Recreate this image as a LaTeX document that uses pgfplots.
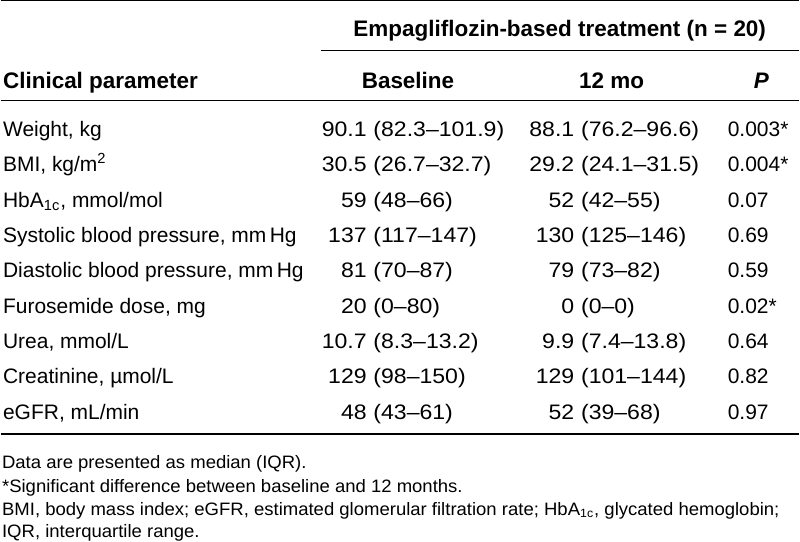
\documentclass[border=0pt]{standalone}
\usepackage{pgfplots}
\pgfplotsset{compat=1.18}
\usepackage{fontspec}
\setmainfont{Liberation Sans}[Ligatures=TeX]
\newfontfamily\footfont{Liberation Sans}[Ligatures=TeX,FakeStretch=1.03]
\newfontfamily\numfont{Liberation Sans}[Ligatures=TeX,FakeStretch=1.1]
\newcommand{\bodyfont}{\fontsize{10.5}{12}\selectfont}
\newcommand{\nfont}{\numfont\fontsize{10.5}{12}\selectfont}
\newcommand{\headfont}{\fontsize{11.25}{13}\selectfont\bfseries}
% #1 row y (baseline), #2 name, #3 baseline median, #4 baseline IQR, #5 12-mo median, #6 12-mo IQR, #7 P
\newcommand{\tabrow}[7]{%
  \node[anchor=base west, inner sep=0pt, font=\bodyfont] at (axis cs:2,#1) {#2};
  \node[anchor=base east, inner sep=0pt, font=\nfont] at (axis cs:367,#1) {#3};
  \node[anchor=base west, inner sep=0pt, font=\nfont] at (axis cs:373,#1) {(#4)};
  \node[anchor=base east, inner sep=0pt, font=\nfont] at (axis cs:575,#1) {#5};
  \node[anchor=base west, inner sep=0pt, font=\nfont] at (axis cs:581,#1) {(#6)};
  \node[anchor=base west, inner sep=0pt, font=\bodyfont] at (axis cs:728,#1) {#7};
}
\begin{document}
\begin{tikzpicture}
\begin{axis}[
  scale only axis, width=400pt, height=282pt,
  xmin=0, xmax=800, ymin=0, ymax=564, y dir=reverse,
  hide axis, clip=false]
% rules
\addplot[black, line width=0.7pt] coordinates {(0,2) (800,2)};
\addplot[black, line width=0.7pt] coordinates {(321,52) (800,52)};
\addplot[black, line width=0.7pt] coordinates {(0,102) (800,102)};
\addplot[black, line width=0.7pt] coordinates {(0,436) (800,436)};
% headers
\node[anchor=base, inner sep=0pt, font=\headfont] at (axis cs:560,38) {Empagliflozin-based treatment (n = 20)};
\node[anchor=base west, inner sep=0pt, font=\headfont] at (axis cs:2,90) {Clinical parameter};
\node[anchor=base, inner sep=0pt, font=\headfont] at (axis cs:408,90) {Baseline};
\node[anchor=base, inner sep=0pt, font=\headfont] at (axis cs:612,90) {12 mo};
\node[anchor=base, inner sep=0pt, font=\headfont\itshape] at (axis cs:762,90) {P};
% body
\tabrow{138.0}{Weight, kg}{90.1}{82.3--101.9}{88.1}{76.2--96.6}{0.003*}
\tabrow{173.4}{BMI, kg/m\textsuperscript{2}}{30.5}{26.7--32.7}{29.2}{24.1--31.5}{0.004*}
\tabrow{208.8}{HbA\textsubscript{1c}, mmol/mol}{59}{48--66}{52}{42--55}{0.07}
\tabrow{244.2}{Systolic blood pressure, mm\,Hg}{137}{117--147}{130}{125--146}{0.69}
\tabrow{279.6}{Diastolic blood pressure, mm\,Hg}{81}{70--87}{79}{73--82}{0.59}
\tabrow{315.0}{Furosemide dose, mg}{20}{0--80}{0}{0--0}{0.02*}
\tabrow{350.4}{Urea, mmol/L}{10.7}{8.3--13.2}{9.9}{7.4--13.8}{0.64}
\tabrow{385.8}{Creatinine, µmol/L}{129}{98--150}{129}{101--144}{0.82}
\tabrow{421.2}{eGFR, mL/min}{48}{43--61}{52}{39--68}{0.97}
% footnotes
\node[anchor=base west, inner sep=0pt, font=\footfont\fontsize{9}{10}\selectfont] at (axis cs:1,471) {Data are presented as median (IQR).};
\node[anchor=base west, inner sep=0pt, font=\footfont\fontsize{9}{10}\selectfont] at (axis cs:1,494.5) {*Significant difference between baseline and 12 months.};
\node[anchor=base west, inner sep=0pt, font=\footfont\fontsize{9}{10}\selectfont] at (axis cs:1,518) {BMI, body mass index; eGFR, estimated glomerular filtration rate; HbA\textsubscript{1c}, glycated hemoglobin;};
\node[anchor=base west, inner sep=0pt, font=\footfont\fontsize{9}{10}\selectfont] at (axis cs:1,540) {IQR, interquartile range.};
\end{axis}
\end{tikzpicture}
\end{document}
